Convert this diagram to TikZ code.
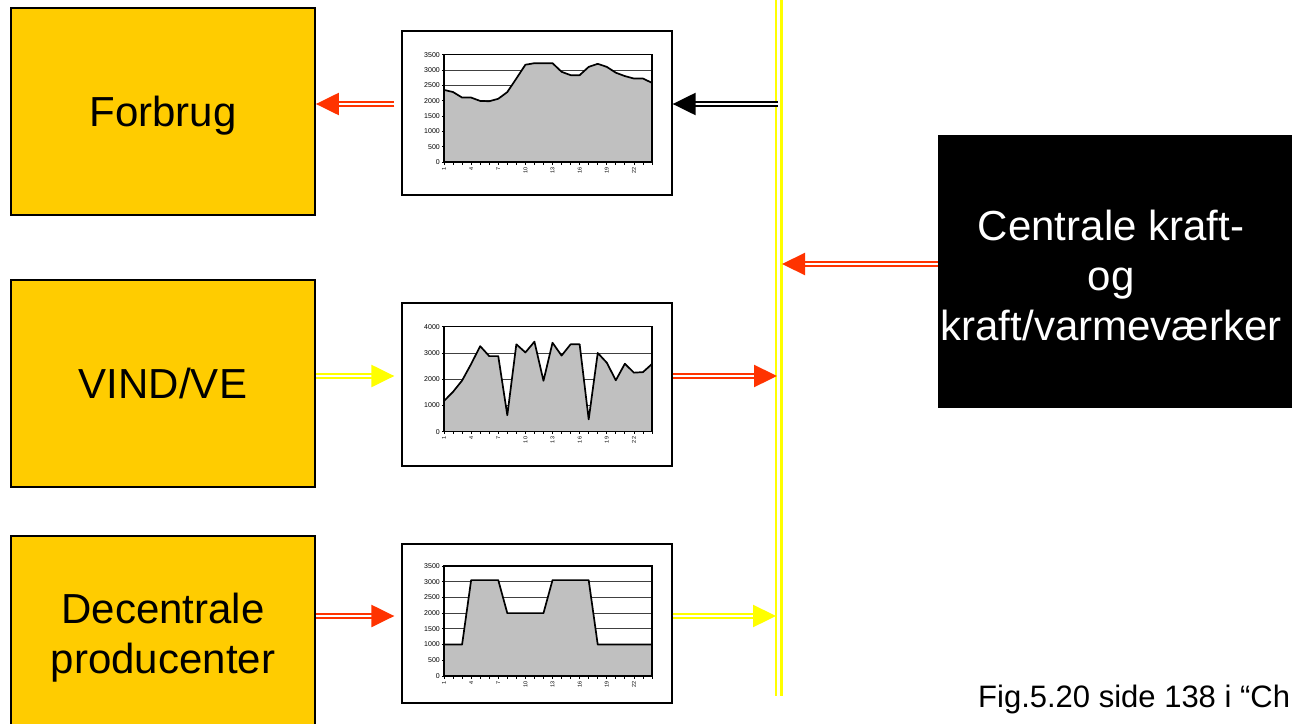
\documentclass[tikz,border=0pt]{standalone}
\usepackage{fontspec}
\setmainfont{Liberation Sans}
\usetikzlibrary{arrows.meta,calc}
\definecolor{boxgold}{HTML}{FFCC00}
\definecolor{arrred}{HTML}{FF3300}
\definecolor{arryel}{HTML}{FFFF00}
\definecolor{areagray}{HTML}{C0C0C0}
\tikzset{
  bigbox/.style={draw=black, line width=1.8pt, fill=boxgold, minimum width=304pt, minimum height=207pt, inner sep=0pt, font=\fontsize{42}{50}\selectfont, align=center},
  chartframe/.style={draw=black, line width=1.3pt, fill=white, inner sep=0pt, minimum width=270pt},
  dbl/.style={line width=2.3pt, double distance=2pt, double=white, -{Triangle[length=23pt,width=22pt]}},
  redarr/.style={dbl, draw=arrred},
  yelarr/.style={dbl, draw=arryel},
  blkarr/.style={dbl, draw=black},
  busline/.style={draw=arryel, line width=2.5pt, double distance=2.6pt, double=white},
  gridl/.style={draw=black!75, line width=0.8pt},
  areafill/.style={fill=areagray},
  dataline/.style={draw=black, line width=1.7pt, line join=round},
  plotframe/.style={draw=black, line width=1.3pt},
  ylab/.style={font=\fontsize{7}{7}\selectfont, inner sep=0pt},
  xlab/.style={font=\fontsize{5.5}{5.5}\selectfont, inner sep=0pt},
  tickmark/.style={draw=black, line width=0.8pt},
}
\newcommand{\drawchart}[5]{%
  \foreach \g in {#4} \draw[gridl] (0,\g) -- (23,\g);
  \fill[areafill] (0,0) -- plot coordinates {#5} -- (23,0) -- cycle;
  \draw[dataline] plot coordinates {#5};
  \draw[plotframe] (0,0) rectangle (23,#2);
  \foreach \v in {0,#3,...,#2} {\draw[tickmark] (0,\v) -- ++(-2pt,0pt);
    \node[ylab, anchor=east] (#1y\v) at ([xshift=-4pt]0,\v) {\v};}
  \foreach \i in {0,...,23} \draw[tickmark] (\i,0) -- ++(0pt,-2.5pt);
  \foreach \i [evaluate=\i as \lab using int(3*\i+1)] in {0,...,7}
    \node[xlab, anchor=east, yshift=-5pt, rotate=90] (#1x\i) at (3*\i,0) {\lab};
}
\begin{document}
\begin{tikzpicture}[x=1pt,y=-1pt]
\useasboundingbox (0,0) rectangle (1292,723);
\clip (0,0) rectangle (1292,723);

% yellow bus
\coordinate (bustop) at (778.7,-5);
\coordinate (busbot) at (778.7,696);
\draw[busline] (bustop) -- (busbot);
\coordinate (b1) at (778,104);
\coordinate (b2) at (782,264);
\coordinate (b3) at (777,376);
\coordinate (b4) at (776,616);

% boxes
\node[bigbox, text depth=0pt] (forbrug) at (163,111.5) {Forbrug};
\node[bigbox, text depth=0pt] (vind) at (163,383.5) {VIND/VE};
\node[bigbox, minimum height=204pt] (decen) at (163,638) {Decentrale\\producenter};
\node[fill=black, minimum width=362pt, minimum height=273pt, inner sep=0pt] (central) at (1119,271.5) {};
\node[text=white, font=\fontsize{42}{50}\selectfont, align=center] (centraltext) at (1111,275) {Centrale kraft-\\og\\kraft/varmeværker};

% charts
\node[chartframe, minimum height=164pt] (chartA) at (537,113) {};
\node[chartframe, minimum height=163pt] (chartB) at (537,384.5) {};
\node[chartframe, minimum height=159pt] (chartC) at (537,623.5) {};

\begin{scope}[shift={(444,162)}, x=9.043pt, y=0.03069pt]
\drawchart{A}{3500}{500}{500,1000,...,3000}{(0,2350) (1,2280) (2,2100) (3,2100) (4,1990) (5,1980) (6,2060) (7,2280) (8,2720) (9,3170) (10,3220) (11,3220) (12,3220) (13,2940) (14,2830) (15,2830) (16,3100) (17,3200) (18,3100) (19,2910) (20,2800) (21,2720) (22,2720) (23,2580)}
\end{scope}
\begin{scope}[shift={(444,431.7)}, x=9.043pt, y=0.02625pt]
\drawchart{B}{4000}{1000}{1000,2000,3000}{(0,1170) (1,1520) (2,1950) (3,2580) (4,3260) (5,2880) (6,2880) (7,630) (8,3330) (9,3020) (10,3430) (11,1940) (12,3390) (13,2900) (14,3330) (15,3330) (16,470) (17,3000) (18,2630) (19,1960) (20,2590) (21,2250) (22,2270) (23,2580)}
\end{scope}
\begin{scope}[shift={(444,676)}, x=9.043pt, y=0.031429pt]
\drawchart{C}{3500}{500}{500,1000,...,3000}{(0,1000) (1,1000) (2,1000) (3,3050) (4,3050) (5,3050) (6,3050) (7,2000) (8,2000) (9,2000) (10,2000) (11,2000) (12,3050) (13,3050) (14,3050) (15,3050) (16,3050) (17,1000) (18,1000) (19,1000) (20,1000) (21,1000) (22,1000) (23,1000)}
\end{scope}

% arrows
\draw[redarr] ($(chartA.west |- b1)+(-7,0)$) -- (forbrug.east |- b1);
\draw[blkarr] (b1) -- (chartA.east |- b1);
\draw[redarr] (central.west |- b2) -- (b2);
\draw[yelarr] (vind.east |- b3) -- ($(chartB.west |- b3)+(-7,0)$);
\draw[redarr] (chartB.east |- b3) -- (b3);
\draw[yelarr] (chartC.east |- b4) -- (b4);
\draw[redarr] (decen.east |- b4) -- ($(chartC.west |- b4)+(-7,0)$);

% caption
\node[anchor=base west, inner sep=0pt, font=\fontsize{31}{31}\selectfont] (caption) at (978,707) {Fig.5.20 side 138 i “Ch};
\end{tikzpicture}
\end{document}
